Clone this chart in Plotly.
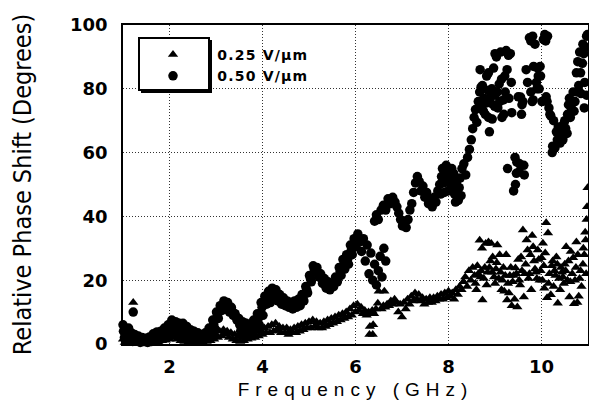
import plotly.graph_objects as go

# ---- data: 0.25 V/um (triangles) ----
T_FREQ = [1.00, 1.04, 1.08, 1.12, 1.16, 1.22, 1.20, 1.24, 1.28, 1.32, 1.36, 1.40, 1.44, 1.48, 1.52, 1.56,
          1.60, 1.64, 1.68, 1.72, 1.76, 1.80, 1.84, 1.88, 1.92, 1.96, 2.00, 2.04, 2.08, 2.12, 2.16, 2.20,
          2.24, 2.28, 2.32, 2.36, 2.40, 2.44, 2.48, 2.52, 2.56, 2.60, 2.64, 2.68, 2.72, 2.76, 2.80, 2.84,
          2.88, 2.92, 2.96, 3.00, 3.04, 3.08, 3.12, 3.16, 3.20, 3.24, 3.28, 3.32, 3.36, 3.40, 3.44, 3.48,
          3.52, 3.56, 3.60, 3.64, 3.68, 3.72, 3.76, 3.80, 3.84, 3.88, 3.92, 3.96, 4.00, 4.04, 4.08, 4.12,
          4.16, 4.20, 4.24, 4.28, 4.32, 4.36, 4.40, 4.44, 4.48, 4.52, 4.56, 4.60, 4.64, 4.68, 4.72, 4.76,
          4.80, 4.84, 4.88, 4.92, 4.96, 5.00, 5.04, 5.08, 5.12, 5.16, 5.20, 5.24, 5.28, 5.32, 5.36, 5.40,
          5.44, 5.48, 5.52, 5.56, 5.60, 5.64, 5.68, 5.72, 5.76, 5.80, 5.84, 5.88, 5.92, 5.96, 6.00, 6.04,
          6.08, 6.12, 6.16, 6.20, 6.24, 6.28, 6.30, 6.31, 6.37, 6.38, 6.32, 6.36, 6.40, 6.44, 6.48, 6.50,
          6.56, 6.62, 6.60, 6.64, 6.68, 6.72, 6.76, 6.80, 6.84, 6.88, 6.92, 6.96, 7.00, 7.04, 7.08, 7.12,
          7.16, 7.20, 7.24, 7.28, 7.32, 7.36, 7.40, 7.44, 7.48, 7.52, 7.56, 7.60, 7.64, 7.68, 7.72, 7.76,
          7.80, 7.84, 7.88, 7.92, 7.96, 8.00, 8.04, 8.08, 8.12, 8.16, 8.20, 8.24, 8.28, 8.32, 8.36, 8.40,
          8.44, 8.48, 8.52, 8.56, 8.60, 8.64, 8.67, 8.70, 8.73, 8.76, 8.80, 8.84, 8.88, 8.92, 8.95, 8.98,
          9.02, 9.05, 9.08, 9.12, 9.16, 9.20, 9.24, 9.26, 9.28, 9.32, 9.36, 9.40, 9.44, 9.48, 9.52, 9.56,
          9.60, 9.62, 9.64, 9.68, 9.72, 9.76, 9.80, 9.84, 9.88, 9.92, 9.96, 10.00, 10.03, 10.06, 10.10, 10.12,
          10.14, 10.17, 10.20, 10.24, 10.28, 10.32, 10.35, 10.38, 10.42, 10.46, 10.50, 10.53, 10.56, 10.60, 10.63, 10.66,
          10.70, 10.75, 10.72, 10.78, 10.80, 10.84, 10.89, 10.92, 10.95, 10.97, 10.98, 10.99,
          8.58, 8.62, 8.69, 8.72, 8.78, 8.82, 8.86, 8.90, 8.94, 9.00, 9.04, 9.10, 9.14, 9.18, 9.22, 9.30,
          9.34, 9.38, 9.42, 9.46, 9.50, 9.54, 9.58, 9.66, 9.70, 9.74, 9.78, 9.82, 9.86, 9.90, 9.94, 9.98,
          10.02, 10.05, 10.08, 10.15, 10.22, 10.26, 10.30, 10.34, 10.40, 10.44, 10.48, 10.52, 10.58, 10.62, 10.68, 10.74,
          10.77, 10.82, 10.86, 10.90, 10.94, 10.96]
T_PHASE = [1.5, 0.5, 2.5, 1.0, 3.0, 13.0, 1.5, 0.5, 1.5, 0.3, 1.0, 0.2, 1.2, 0.5, 0.0, 1.0,
           0.3, 1.5, 0.5, 1.8, 0.8, 2.0, 1.0, 2.5, 1.2, 3.0, 1.5, 3.5, 2.0, 3.0, 1.5, 2.5,
           1.0, 2.0, 0.8, 1.8, 0.5, 1.5, 0.3, 1.0, 0.2, 1.2, 0.5, 1.5, 0.3, 1.8, 0.8, 2.0,
           1.0, 2.5, 1.5, 3.0, 2.0, 4.0, 2.5, 4.5, 3.0, 4.0, 2.0, 3.5, 1.5, 3.0, 1.0, 2.5,
           0.8, 2.0, 1.0, 2.5, 1.5, 3.0, 1.8, 3.5, 2.0, 4.0, 2.5, 4.5, 3.0, 5.0, 3.5, 5.5,
           3.5, 6.0, 4.0, 6.5, 4.5, 5.5, 3.5, 5.0, 3.5, 5.0, 3.0, 4.5, 3.5, 5.0, 3.5, 5.5,
           4.0, 6.0, 4.5, 6.5, 5.0, 7.0, 5.0, 7.5, 5.5, 7.0, 5.0, 6.5, 5.0, 7.0, 5.5, 7.5,
           6.0, 8.0, 6.5, 8.5, 7.0, 9.0, 7.5, 9.5, 8.0, 10.0, 8.5, 11.0, 9.0, 12.0, 10.0, 12.5,
           10.5, 11.5, 9.5, 10.5, 9.0, 10.0, 3.0, 5.5, 3.0, 6.0, 9.5, 10.5, 9.5, 11.0, 12.8, 16.5,
           11.0, 16.5, 12.0, 11.5, 12.5, 12.0, 13.5, 12.5, 14.0, 13.0, 10.0, 12.5, 8.5, 13.0, 11.0, 14.0,
           12.5, 15.0, 13.5, 16.0, 14.0, 15.5, 13.5, 14.5, 12.5, 14.0, 13.0, 14.5, 13.0, 14.5, 13.5, 15.0,
           14.0, 15.5, 14.0, 16.0, 14.5, 16.5, 15.0, 16.0, 14.0, 17.0, 15.5, 18.0, 17.0, 19.5, 21.0, 18.0,
           23.0, 20.0, 24.0, 21.5, 17.0, 22.0, 32.5, 23.0, 13.8, 20.5, 31.5, 22.5, 24.0, 31.5, 27.3, 21.0,
           23.5, 31.0, 20.5, 22.5, 20.0, 16.5, 28.0, 13.8, 19.0, 21.5, 12.0, 21.5, 23.8, 11.6, 20.0, 27.3,
           35.7, 14.7, 22.0, 32.6, 20.5, 28.0, 34.0, 26.0, 22.5, 29.5, 20.0, 27.0, 31.6, 17.5, 38.0, 14.5,
           34.8, 22.0, 15.4, 26.0, 23.0, 27.3, 12.8, 20.5, 24.0, 21.0, 25.0, 30.5, 20.0, 14.7, 29.0, 22.0,
           12.6, 32.0, 20.0, 28.0, 15.0, 23.0, 25.0, 28.0, 32.6, 39.0, 43.0, 49.0,
           19.0, 24.5, 21.0, 30.0, 24.0, 18.5, 32.0, 26.0, 22.5, 19.0, 25.5, 28.0, 17.0, 24.0, 21.5, 16.0,
           24.0, 19.5, 14.0, 22.0, 26.5, 18.5, 23.0, 25.0, 29.5, 22.0, 17.0, 30.5, 23.5, 20.5, 26.5, 23.0,
           20.0, 24.5, 28.5, 19.0, 24.5, 18.0, 21.5, 25.0, 17.0, 22.5, 19.0, 23.0, 26.0, 19.5, 27.0, 24.0,
           13.0, 20.5, 18.0, 30.0, 35.0, 22.0]

# ---- data: 0.50 V/um (circles) ----
C_FREQ = [1.00, 1.03, 1.06, 1.09, 1.12, 1.15, 1.18, 1.21, 1.22, 1.25, 1.29, 1.33, 1.37, 1.41, 1.45, 1.49,
          1.53, 1.57, 1.61, 1.65, 1.69, 1.73, 1.77, 1.81, 1.85, 1.89, 1.93, 1.97, 2.01, 2.05, 2.09, 2.13,
          2.17, 2.21, 2.25, 2.29, 2.33, 2.37, 2.41, 2.45, 2.49, 2.53, 2.57, 2.61, 2.65, 2.69, 2.73, 2.77,
          2.81, 2.85, 2.89, 2.93, 2.97, 3.01, 3.05, 3.09, 3.13, 3.17, 3.21, 3.25, 3.29, 3.33, 3.37, 3.41,
          3.45, 3.49, 3.53, 3.57, 3.61, 3.65, 3.69, 3.73, 3.77, 3.81, 3.85, 3.89, 3.93, 3.97, 4.01, 4.05,
          4.09, 4.13, 4.17, 4.21, 4.25, 4.29, 4.33, 4.37, 4.41, 4.45, 4.49, 4.53, 4.57, 4.61, 4.65, 4.69,
          4.73, 4.77, 4.81, 4.85, 4.89, 4.93, 4.97, 5.01, 5.05, 5.09, 5.13, 5.17, 5.21, 5.25, 5.29, 5.33,
          5.37, 5.41, 5.45, 5.49, 5.53, 5.57, 5.61, 5.65, 5.69, 5.73, 5.77, 5.81, 5.85, 5.89, 5.93, 5.97,
          6.01, 6.05, 6.09, 6.13, 6.17, 6.21, 6.25, 6.29, 6.33, 6.37, 6.41, 6.45, 6.49, 6.53, 6.57, 6.61,
          6.65, 6.41, 6.45, 6.49, 6.55, 6.60, 6.65, 6.70, 6.75, 6.80, 6.85, 6.89, 6.93, 6.97, 7.01, 7.05,
          7.09, 7.13, 7.17, 7.21, 7.25, 7.29, 7.33, 7.37, 7.41, 7.45, 7.49, 7.53, 7.57, 7.61, 7.65, 7.69,
          7.73, 7.77, 7.81, 7.85, 7.89, 7.93, 7.97, 8.01, 8.05, 8.09, 8.13, 8.17, 8.21, 8.25, 8.29, 8.33,
          8.37, 8.41, 8.45, 8.49, 8.52, 8.55, 8.58, 8.61, 8.64, 8.67, 8.70, 8.73, 8.76, 8.79, 8.82, 8.85,
          8.88, 8.91, 8.94, 8.97, 9.00, 9.03, 9.06, 9.09, 9.12, 9.15, 9.18, 9.21, 9.24, 9.27, 9.30, 9.33,
          9.36, 9.40, 9.43, 9.46, 9.50, 9.53, 9.57, 9.60, 9.63, 9.67, 9.70, 9.74, 9.77, 9.80, 9.83, 9.86,
          9.89, 9.92, 9.95, 9.98, 10.01, 10.04, 10.07, 10.10, 10.13, 10.16, 10.20, 10.23, 10.26, 10.29, 10.32, 10.36,
          10.40, 10.44, 10.48, 10.52, 10.56, 10.60, 10.64, 10.68, 10.72, 10.75, 10.78, 10.82, 10.85, 10.89, 10.93, 10.97,
          8.70, 8.75, 8.80, 8.86, 8.90, 8.93, 8.99, 9.05, 9.10, 9.14, 9.19, 9.22, 9.26, 9.29, 9.35, 8.68,
          8.86, 9.00, 9.55, 9.58, 9.47, 9.52, 9.44, 9.62, 9.82, 9.90, 9.93, 9.97, 9.77, 9.81, 10.09, 10.12,
          10.18, 10.24, 10.34, 10.42, 10.46, 10.50, 10.55, 10.58, 10.62, 10.70, 10.76, 10.80, 10.84, 10.88, 10.91, 10.95,
          10.99, 10.92, 10.97, 7.83, 7.87, 7.91, 7.95, 7.99, 8.03, 8.07, 8.11, 8.15, 8.19, 8.23, 8.27,
          1.01, 1.07, 1.13, 1.19, 1.27, 1.35, 1.43, 1.51, 1.59, 1.67, 1.75, 1.83, 1.91, 1.99, 2.07, 2.15,
          2.23, 2.31, 2.39, 2.47, 2.55, 2.63, 2.71, 2.79, 2.87, 2.95, 3.03, 3.11, 3.19, 3.27, 3.35, 3.43,
          3.51, 3.59, 3.67, 3.75, 3.83, 3.91, 3.99, 4.07, 4.15, 4.23, 4.31, 4.39, 4.47, 4.55, 4.63, 4.71,
          4.79, 4.87, 4.95, 5.03, 5.11, 5.19, 5.27, 5.35, 5.43, 5.51, 5.59, 5.67, 5.75, 5.83, 5.91, 5.99,
          6.07]
C_PHASE = [6.0, 2.0, 4.5, 1.0, 5.0, 2.5, 3.5, 0.8, 10.0, 3.0, 1.5, 2.5, 0.5, 2.0, 1.0, 1.8,
           0.5, 2.2, 1.0, 3.2, 1.5, 3.8, 1.2, 4.0, 2.0, 5.0, 2.5, 6.0, 3.0, 7.5, 4.0, 7.0,
           2.5, 6.5, 3.5, 6.5, 2.0, 5.5, 3.0, 4.5, 1.5, 4.0, 1.0, 3.5, 2.0, 3.0, 1.0, 3.5,
           2.0, 5.0, 3.0, 7.5, 5.0, 10.0, 8.0, 12.0, 10.5, 13.5, 11.0, 13.0, 10.0, 11.5, 9.0, 9.5,
           7.5, 8.0, 4.0, 7.0, 3.5, 6.5, 3.0, 6.0, 3.5, 7.5, 4.5, 9.5, 6.0, 13.0, 9.0, 15.0,
           12.5, 16.5, 13.0, 17.5, 14.0, 17.0, 13.5, 15.5, 12.5, 14.5, 12.0, 13.5, 11.5, 13.0, 11.0, 13.5,
           11.5, 14.0, 12.0, 15.5, 13.5, 18.0, 16.0, 21.5, 19.5, 24.5, 22.5, 24.0, 21.0, 22.0, 19.0, 20.5,
           17.5, 19.5, 17.0, 19.0, 18.0, 21.0, 19.5, 24.0, 21.5, 26.5, 23.5, 28.0, 25.0, 31.0, 28.0, 33.0,
           30.5, 34.5, 32.0, 29.0, 33.0, 26.0, 31.0, 22.0, 28.5, 20.0, 25.0, 18.5, 23.0, 27.5, 21.0, 30.0,
           26.0, 38.5, 40.5, 39.0, 42.0, 43.5, 42.0, 45.5, 44.0, 46.0, 44.5, 43.0, 41.0, 39.0, 37.0, 38.5,
           36.5, 39.0, 42.0, 44.0, 47.5, 50.5, 52.5, 51.0, 48.0, 49.5, 46.0, 47.5, 44.0, 45.5, 43.0, 46.0,
           44.5, 48.0, 50.0, 52.5, 50.5, 53.5, 51.0, 54.0, 49.0, 52.0, 47.0, 50.5, 45.0, 52.0, 55.0, 56.5,
           53.0, 58.5, 61.0, 64.0, 67.5, 71.0, 73.5, 69.5, 76.0, 79.0, 74.0, 81.0, 77.0, 72.0, 84.0, 79.5,
           66.5, 75.5, 70.5, 86.5, 78.0, 90.0, 74.0, 81.5, 91.5, 71.0, 76.5, 84.0, 92.0, 55.0, 77.0, 91.0,
           72.5, 48.0, 58.5, 53.5, 77.5, 56.5, 72.0, 76.0, 53.0, 86.0, 82.0, 96.0, 79.0, 76.0, 87.0, 94.0,
           82.0, 86.5, 80.0, 84.0, 76.0, 95.5, 97.0, 77.5, 96.5, 74.0, 71.5, 60.0, 70.0, 61.5, 66.5, 68.0,
           63.0, 66.0, 69.0, 67.5, 72.0, 77.0, 74.0, 79.0, 76.0, 85.0, 88.5, 91.5, 78.5, 94.0, 82.0, 96.5,
           80.5, 73.0, 75.5, 71.0, 77.5, 80.0, 74.5, 79.0, 76.0, 83.0, 72.0, 79.0, 86.0, 90.5, 82.0, 86.0,
           85.0, 91.0, 77.4, 75.0, 57.0, 54.0, 50.0, 56.0, 76.5, 80.0, 84.0, 87.0, 95.0, 96.5, 95.0, 76.0,
           72.0, 62.0, 64.0, 68.0, 64.0, 70.0, 66.0, 75.0, 71.0, 73.0, 79.0, 81.0, 85.0, 88.0, 91.0, 93.0,
           97.0, 74.0, 78.0, 47.0, 55.0, 47.5, 56.0, 48.0, 51.5, 55.0, 53.5, 44.5, 48.0, 49.0, 46.5,
           4.0, 3.0, 3.5, 2.0, 2.2, 1.5, 1.4, 1.2, 1.6, 2.4, 2.5, 3.0, 3.8, 4.5, 5.8, 4.8,
           5.0, 4.2, 4.2, 3.0, 2.5, 2.8, 2.2, 2.8, 4.0, 6.2, 9.0, 11.2, 12.2, 11.5, 10.2, 8.5,
           6.0, 5.2, 4.8, 4.8, 6.0, 8.0, 11.5, 13.5, 14.8, 15.8, 15.2, 14.0, 13.2, 12.5, 12.0, 12.5,
           13.0, 14.5, 17.0, 20.5, 23.5, 22.5, 20.5, 18.5, 18.2, 18.5, 20.2, 22.8, 25.0, 26.5, 29.5, 31.8,
           33.2]

X_TICKS = [2, 4, 6, 8, 10]
Y_TICKS = [0, 20, 40, 60, 80, 100]
SERIES_NAMES = ["0.25 V/\u00b5m", "0.50 V/\u00b5m"]

W, H = 589, 401
L, R, T, B = 123, 1, 25, 57

def legend_label(s):
    return '<span style="letter-spacing:1.2px">' + "\u00a0" * 4 + s + "</span>"

fig = go.Figure()
fig.add_trace(go.Scatter(x=T_FREQ, y=T_PHASE, mode="markers", name=legend_label(SERIES_NAMES[0]),
                         marker=dict(symbol="triangle-up", size=9, color="black"), cliponaxis=False))
fig.add_trace(go.Scatter(x=C_FREQ, y=C_PHASE, mode="markers", name=legend_label(SERIES_NAMES[1]),
                         marker=dict(symbol="circle", size=9.5, color="black"), cliponaxis=False))

def px2paper_x(px):
    return (px - L) / (W - L - R)

def px2paper_y(py):
    return (H - B - py) / (H - B - T)

shapes = [
    dict(type="rect", xref="paper", yref="paper",
         x0=px2paper_x(141), x1=px2paper_x(212), y0=px2paper_y(93), y1=px2paper_y(40),
         fillcolor="black", line=dict(width=0), layer="above"),
    dict(type="rect", xref="paper", yref="paper",
         x0=px2paper_x(139), x1=px2paper_x(209), y0=px2paper_y(90), y1=px2paper_y(38),
         fillcolor="white", line=dict(color="black", width=2), layer="above"),
]

axis_common = dict(
    showline=True, linecolor="black", linewidth=1.5, mirror=True,
    showgrid=True, gridcolor="#333333", gridwidth=1, griddash="1px,2px",
    zeroline=False, ticks="", automargin=False,
    tickfont=dict(family="DejaVu Sans", size=18, color="black", weight="bold"),
)

fig.update_layout(
    width=W, height=H,
    margin=dict(l=L, r=R, t=T, b=B, autoexpand=False),
    paper_bgcolor="white", plot_bgcolor="white",
    showlegend=True,
    legend=dict(x=px2paper_x(153), y=px2paper_y(39), xanchor="left", yanchor="top",
                bgcolor="rgba(0,0,0,0)", borderwidth=0,
                font=dict(family="DejaVu Sans", size=14, color="black", weight="bold")),
    shapes=shapes,
    xaxis=dict(range=[1, 11], tickvals=X_TICKS, ticklabelstandoff=6,
               title=dict(text='<span style="letter-spacing:6px">Frequency (GHz)</span>',
                          font=dict(family="Liberation Sans", size=19, color="black"), standoff=6),
               **axis_common),
    yaxis=dict(range=[0, 100], tickvals=Y_TICKS, ticklabelstandoff=10,
               title=dict(text="Relative Phase Shift (Degrees)",
                          font=dict(family="DejaVu Sans Condensed, Liberation Sans", size=25, color="black"),
                          standoff=31),
               **axis_common),
)

fig.write_html("out.html", config={"displayModeBar": False},
               post_script="document.body.style.margin='0';document.body.style.overflow='hidden';")
